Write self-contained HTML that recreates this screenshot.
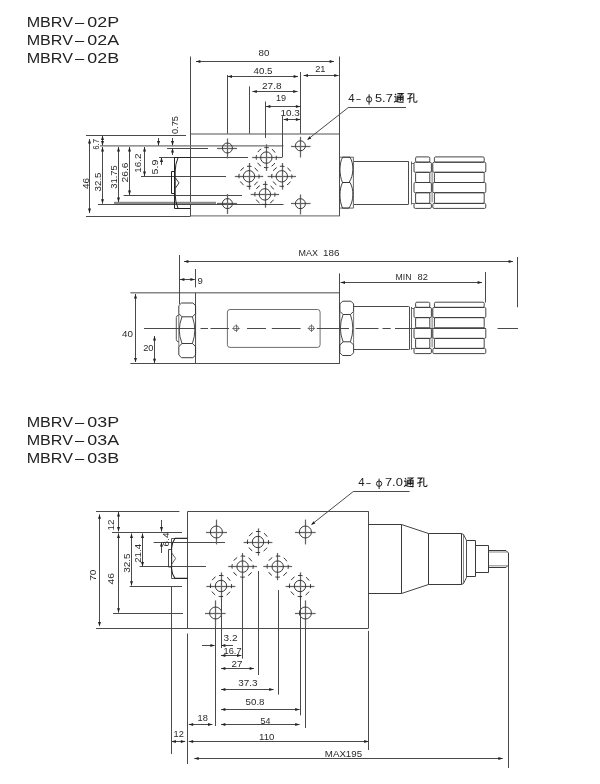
<!DOCTYPE html>
<html><head><meta charset="utf-8"><title>MBRV</title>
<style>
html,body{margin:0;padding:0;background:#fff;}
body{width:600px;height:784px;overflow:hidden;font-family:"Liberation Sans",sans-serif;}
svg{display:block;will-change:transform;filter:grayscale(1);font-family:"Liberation Sans",sans-serif;}
</style></head><body>
<svg width="600" height="784" viewBox="0 0 600 784">
<rect width="600" height="784" fill="#fff"/>
<text x="26.7" y="26.6" font-size="14.8" lengthAdjust="spacingAndGlyphs" fill="#222" textLength="46.2">MBRV</text>
<text x="74.9" y="26.6" font-size="14.8" lengthAdjust="spacingAndGlyphs" fill="#222" textLength="9.2">–</text>
<text x="87.3" y="26.6" font-size="14.8" lengthAdjust="spacingAndGlyphs" fill="#222" textLength="31.8">02P</text>
<text x="26.7" y="45" font-size="14.8" lengthAdjust="spacingAndGlyphs" fill="#222" textLength="46.2">MBRV</text>
<text x="74.9" y="45" font-size="14.8" lengthAdjust="spacingAndGlyphs" fill="#222" textLength="9.2">–</text>
<text x="87.3" y="45" font-size="14.8" lengthAdjust="spacingAndGlyphs" fill="#222" textLength="31.8">02A</text>
<text x="26.7" y="63" font-size="14.8" lengthAdjust="spacingAndGlyphs" fill="#222" textLength="46.2">MBRV</text>
<text x="74.9" y="63" font-size="14.8" lengthAdjust="spacingAndGlyphs" fill="#222" textLength="9.2">–</text>
<text x="87.3" y="63" font-size="14.8" lengthAdjust="spacingAndGlyphs" fill="#222" textLength="31.8">02B</text>
<text x="26.7" y="426.6" font-size="14.8" lengthAdjust="spacingAndGlyphs" fill="#222" textLength="46.2">MBRV</text>
<text x="74.9" y="426.6" font-size="14.8" lengthAdjust="spacingAndGlyphs" fill="#222" textLength="9.2">–</text>
<text x="87.3" y="426.6" font-size="14.8" lengthAdjust="spacingAndGlyphs" fill="#222" textLength="31.8">03P</text>
<text x="26.7" y="445" font-size="14.8" lengthAdjust="spacingAndGlyphs" fill="#222" textLength="46.2">MBRV</text>
<text x="74.9" y="445" font-size="14.8" lengthAdjust="spacingAndGlyphs" fill="#222" textLength="9.2">–</text>
<text x="87.3" y="445" font-size="14.8" lengthAdjust="spacingAndGlyphs" fill="#222" textLength="31.8">03A</text>
<text x="26.7" y="463" font-size="14.8" lengthAdjust="spacingAndGlyphs" fill="#222" textLength="46.2">MBRV</text>
<text x="74.9" y="463" font-size="14.8" lengthAdjust="spacingAndGlyphs" fill="#222" textLength="9.2">–</text>
<text x="87.3" y="463" font-size="14.8" lengthAdjust="spacingAndGlyphs" fill="#222" textLength="31.8">03B</text>
<g id="top02">
<line x1="190.5" y1="133.95" x2="339" y2="133.95" stroke="#8a8a8a" stroke-width="1.5" />
<line x1="190.5" y1="215.9" x2="339.5" y2="215.9" stroke="#808080" stroke-width="1.4" />
<line x1="190.5" y1="56.5" x2="190.5" y2="216.2" stroke="#4a4a4a" stroke-width="1" />
<line x1="339.5" y1="56.5" x2="339.5" y2="216.2" stroke="#4a4a4a" stroke-width="1" />
<line x1="86" y1="135.5" x2="186" y2="135.5" stroke="#4a4a4a" stroke-width="1" />
<line x1="86" y1="216.5" x2="190.5" y2="216.5" stroke="#4a4a4a" stroke-width="1" />
<line x1="100" y1="145.8" x2="283.5" y2="145.8" stroke="#707070" stroke-width="1.3" />
<line x1="167" y1="148.5" x2="208" y2="148.5" stroke="#4a4a4a" stroke-width="1" />
<line x1="159" y1="157.5" x2="248" y2="157.5" stroke="#4a4a4a" stroke-width="1" />
<line x1="141" y1="176.5" x2="226" y2="176.5" stroke="#4a4a4a" stroke-width="1" />
<line x1="123.6" y1="195.5" x2="242" y2="195.5" stroke="#4a4a4a" stroke-width="1" />
<line x1="114" y1="202.9" x2="216" y2="202.9" stroke="#8a8a8a" stroke-width="2.2" />
<line x1="98" y1="204.5" x2="283.5" y2="204.5" stroke="#4a4a4a" stroke-width="1" />
<line x1="227.5" y1="75" x2="227.5" y2="133.6" stroke="#4a4a4a" stroke-width="1" />
<line x1="249.5" y1="86.4" x2="249.5" y2="133.6" stroke="#4a4a4a" stroke-width="1" />
<line x1="265.5" y1="101.5" x2="265.5" y2="138" stroke="#4a4a4a" stroke-width="1" />
<line x1="282.5" y1="116" x2="282.5" y2="157.5" stroke="#4a4a4a" stroke-width="1" />
<line x1="276" y1="157.5" x2="282" y2="157.5" stroke="#4a4a4a" stroke-width="1" />
<line x1="300.5" y1="72" x2="300.5" y2="133.6" stroke="#4a4a4a" stroke-width="1" />
<line x1="196" y1="61.5" x2="334" y2="61.5" stroke="#4a4a4a" stroke-width="1" />
<polygon points="196,61.5 200.4,60.0 200.4,63.0" fill="#222"/>
<polygon points="334,61.5 329.6,60.0 329.6,63.0" fill="#222"/>
<line x1="227.6" y1="76.5" x2="298" y2="76.5" stroke="#4a4a4a" stroke-width="1" />
<polygon points="227.6,76.5 232.0,75.0 232.0,78.0" fill="#222"/>
<polygon points="298,76.5 293.6,75.0 293.6,78.0" fill="#222"/>
<line x1="303.6" y1="75.5" x2="338.6" y2="75.5" stroke="#4a4a4a" stroke-width="1" />
<polygon points="303.6,75.5 308.0,74.0 308.0,77.0" fill="#222"/>
<polygon points="338.6,75.5 334.20000000000005,74.0 334.20000000000005,77.0" fill="#222"/>
<line x1="252.4" y1="91.5" x2="297.6" y2="91.5" stroke="#4a4a4a" stroke-width="1" />
<polygon points="252.4,91.5 256.8,90.0 256.8,93.0" fill="#222"/>
<polygon points="297.6,91.5 293.20000000000005,90.0 293.20000000000005,93.0" fill="#222"/>
<line x1="266" y1="106.5" x2="300.3" y2="106.5" stroke="#4a4a4a" stroke-width="1" />
<polygon points="266,106.5 270.4,105.0 270.4,108.0" fill="#222"/>
<polygon points="300.3,106.5 295.90000000000003,105.0 295.90000000000003,108.0" fill="#222"/>
<line x1="283.6" y1="119.5" x2="300.3" y2="119.5" stroke="#4a4a4a" stroke-width="1" />
<polygon points="283.6,119.5 288.0,118.0 288.0,121.0" fill="#222"/>
<polygon points="300.3,119.5 295.90000000000003,118.0 295.90000000000003,121.0" fill="#222"/>
<text x="258.60" y="55.7" font-size="8.5" textLength="10.90" lengthAdjust="spacingAndGlyphs" fill="#2a2a2a" >80</text>
<text x="253.60" y="74.1" font-size="8.5" textLength="18.90" lengthAdjust="spacingAndGlyphs" fill="#2a2a2a" >40.5</text>
<text x="315.20" y="72.1" font-size="8.5" textLength="10.30" lengthAdjust="spacingAndGlyphs" fill="#2a2a2a" >21</text>
<text x="262.00" y="88.7" font-size="8.5" textLength="19.50" lengthAdjust="spacingAndGlyphs" fill="#2a2a2a" >27.8</text>
<text x="276.00" y="101" font-size="8.5" textLength="10.10" lengthAdjust="spacingAndGlyphs" fill="#2a2a2a" >19</text>
<text x="280.60" y="116.1" font-size="8.5" textLength="19.30" lengthAdjust="spacingAndGlyphs" fill="#2a2a2a" >10.3</text>
<line x1="89.5" y1="139" x2="89.5" y2="213" stroke="#4a4a4a" stroke-width="1" />
<polygon points="89.5,139 88.0,143.4 91.0,143.4" fill="#222"/>
<polygon points="89.5,213 88.0,208.6 91.0,208.6" fill="#222"/>
<line x1="102.5" y1="135.5" x2="102.5" y2="145.7" stroke="#4a4a4a" stroke-width="1" />
<polygon points="102.5,135.7 101.0,140.1 104.0,140.1" fill="#222"/>
<polygon points="102.5,145.5 101.0,141.1 104.0,141.1" fill="#222"/>
<line x1="102.5" y1="147" x2="102.5" y2="203.6" stroke="#4a4a4a" stroke-width="1" />
<polygon points="102.5,147 101.0,151.4 104.0,151.4" fill="#222"/>
<polygon points="102.5,203.6 101.0,199.2 104.0,199.2" fill="#222"/>
<line x1="118.5" y1="147" x2="118.5" y2="202" stroke="#4a4a4a" stroke-width="1" />
<polygon points="118.5,147 117.0,151.4 120.0,151.4" fill="#222"/>
<polygon points="118.5,202 117.0,197.6 120.0,197.6" fill="#222"/>
<line x1="129.5" y1="147" x2="129.5" y2="195" stroke="#4a4a4a" stroke-width="1" />
<polygon points="129.5,147 128.0,151.4 131.0,151.4" fill="#222"/>
<polygon points="129.5,195 128.0,190.6 131.0,190.6" fill="#222"/>
<line x1="144.5" y1="147" x2="144.5" y2="176" stroke="#4a4a4a" stroke-width="1" />
<polygon points="144.5,147 143.0,151.4 146.0,151.4" fill="#222"/>
<polygon points="144.5,176 143.0,171.6 146.0,171.6" fill="#222"/>
<line x1="158.5" y1="138" x2="158.5" y2="145.5" stroke="#4a4a4a" stroke-width="1" />
<polygon points="158.5,145.5 157.0,141.1 160.0,141.1" fill="#222"/>
<line x1="161.5" y1="157.6" x2="161.5" y2="165" stroke="#4a4a4a" stroke-width="1" />
<polygon points="161.5,157.6 160.0,162.0 163.0,162.0" fill="#222"/>
<line x1="172.5" y1="138" x2="172.5" y2="145.5" stroke="#4a4a4a" stroke-width="1" />
<polygon points="172.5,145.5 171.0,141.1 174.0,141.1" fill="#222"/>
<line x1="172.5" y1="148.2" x2="172.5" y2="155" stroke="#4a4a4a" stroke-width="1" />
<polygon points="172.5,148.2 171.0,152.6 174.0,152.6" fill="#222"/>
<text transform="translate(88.6,189.00) rotate(-90)" x="0" y="0" font-size="8.5" textLength="11.10" lengthAdjust="spacingAndGlyphs" fill="#2a2a2a" >46</text>
<text transform="translate(99.4,149.80) rotate(-90)" x="0" y="0" font-size="8.5" textLength="10.90" lengthAdjust="spacingAndGlyphs" fill="#2a2a2a" >6.7</text>
<text transform="translate(101.3,191.40) rotate(-90)" x="0" y="0" font-size="8.5" textLength="18.90" lengthAdjust="spacingAndGlyphs" fill="#2a2a2a" >32.5</text>
<text transform="translate(116.8,188.80) rotate(-90)" x="0" y="0" font-size="8.5" textLength="23.70" lengthAdjust="spacingAndGlyphs" fill="#2a2a2a" >31.75</text>
<text transform="translate(127.5,182.40) rotate(-90)" x="0" y="0" font-size="8.5" textLength="19.90" lengthAdjust="spacingAndGlyphs" fill="#2a2a2a" >26.6</text>
<text transform="translate(140.6,172.80) rotate(-90)" x="0" y="0" font-size="8.5" textLength="19.30" lengthAdjust="spacingAndGlyphs" fill="#2a2a2a" >16.2</text>
<text transform="translate(157.6,174.40) rotate(-90)" x="0" y="0" font-size="8.5" textLength="14.90" lengthAdjust="spacingAndGlyphs" fill="#2a2a2a" >5.9</text>
<text transform="translate(177.6,134.00) rotate(-90)" x="0" y="0" font-size="8.5" textLength="17.90" lengthAdjust="spacingAndGlyphs" fill="#2a2a2a" >0.75</text>
<path d="M174.5,157.5 H190.5 M174.5,208.5 H190.5 M174.5,157.5 V208.5" stroke="#222" stroke-width="1.0" fill="none" />
<path d="M178,157.8 Q175.3,164 175.2,171 V195 Q175.3,202 178,208.2" stroke="#222" stroke-width="1" fill="none" />
<path d="M175.4,177.8 L179,182.9 L175.4,188.2" stroke="#222" stroke-width="0.9" fill="none" />
<path d="M171.5,171.5 H174.5 V193.5 H171.5 Z" stroke="#222" stroke-width="1" fill="none" />
<line x1="217" y1="148.5" x2="237" y2="148.5" stroke="#636363" stroke-width="1.25" />
<line x1="227.5" y1="138.5" x2="227.5" y2="158.5" stroke="#636363" stroke-width="1.25" />
<circle cx="227.4" cy="148" r="5" stroke="#303030" stroke-width="0.95" fill="none" />
<line x1="217" y1="203.5" x2="237" y2="203.5" stroke="#636363" stroke-width="1.25" />
<line x1="227.5" y1="194" x2="227.5" y2="214" stroke="#636363" stroke-width="1.25" />
<circle cx="227.4" cy="203.6" r="5" stroke="#303030" stroke-width="0.95" fill="none" />
<line x1="291" y1="146.5" x2="310.5" y2="146.5" stroke="#636363" stroke-width="1.25" />
<line x1="300.5" y1="136.8" x2="300.5" y2="157.5" stroke="#636363" stroke-width="1.25" />
<circle cx="300.4" cy="145.8" r="5" stroke="#303030" stroke-width="0.95" fill="none" />
<line x1="291" y1="203.5" x2="310.5" y2="203.5" stroke="#636363" stroke-width="1.25" />
<line x1="300.5" y1="194.5" x2="300.5" y2="214.5" stroke="#636363" stroke-width="1.25" />
<circle cx="300.4" cy="203.7" r="5" stroke="#303030" stroke-width="0.95" fill="none" />
<line x1="252.10000000000002" y1="157.5" x2="280.5" y2="157.5" stroke="#636363" stroke-width="1.25" />
<line x1="266.5" y1="144.29999999999998" x2="266.5" y2="170.9" stroke="#636363" stroke-width="1.25" />
<circle cx="266.3" cy="157.6" r="5.7" stroke="#303030" stroke-width="0.95" fill="none" />
<circle cx="266.3" cy="157.6" r="10.1" stroke="#2e2e2e" stroke-width="1.0" fill="none" stroke-dasharray="4.600 3.333" stroke-dashoffset="2.300"/>
<line x1="234.8" y1="176.5" x2="263.2" y2="176.5" stroke="#636363" stroke-width="1.25" />
<line x1="249.5" y1="163.0" x2="249.5" y2="189.60000000000002" stroke="#636363" stroke-width="1.25" />
<circle cx="249" cy="176.3" r="5.7" stroke="#303030" stroke-width="0.95" fill="none" />
<circle cx="249" cy="176.3" r="10.1" stroke="#2e2e2e" stroke-width="1.0" fill="none" stroke-dasharray="4.600 3.333" stroke-dashoffset="2.300"/>
<line x1="267.6" y1="176.5" x2="296.0" y2="176.5" stroke="#636363" stroke-width="1.25" />
<line x1="282.5" y1="163.0" x2="282.5" y2="189.60000000000002" stroke="#636363" stroke-width="1.25" />
<circle cx="281.8" cy="176.3" r="5.7" stroke="#303030" stroke-width="0.95" fill="none" />
<circle cx="281.8" cy="176.3" r="10.1" stroke="#2e2e2e" stroke-width="1.0" fill="none" stroke-dasharray="4.600 3.333" stroke-dashoffset="2.300"/>
<line x1="250.7" y1="194.5" x2="279.09999999999997" y2="194.5" stroke="#636363" stroke-width="1.25" />
<line x1="265.5" y1="181.1" x2="265.5" y2="207.70000000000002" stroke="#636363" stroke-width="1.25" />
<circle cx="264.9" cy="194.4" r="5.7" stroke="#303030" stroke-width="0.95" fill="none" />
<circle cx="264.9" cy="194.4" r="10.1" stroke="#2e2e2e" stroke-width="1.0" fill="none" stroke-dasharray="4.600 3.333" stroke-dashoffset="2.300"/>
<line x1="349" y1="107" x2="308" y2="139.2" stroke="#4a4a4a" stroke-width="1" />
<line x1="349" y1="107.5" x2="406" y2="107.5" stroke="#4a4a4a" stroke-width="1" />
<polygon points="307,140 311.3,138.4 309.5,136.2" fill="#222"/>
<path d="M339.5,157.2 H353.4 V208.1 H339.5" stroke="#555" stroke-width="0.9" fill="none" />
<path d="M342.6,157.2 C339.1,163.52499999999998 339.1,174.91 342.5,182.5 H349.0 C354.0,175.416 354.0,163.52499999999998 350.0,157.2 Z" stroke="#333" stroke-width="0.95" fill="none" />
<path d="M342.6,182.5 C339.1,188.9 339.1,200.42 342.5,208.1 H349.0 C354.0,200.932 354.0,188.9 350.0,182.5 Z" stroke="#333" stroke-width="0.95" fill="none" />
<line x1="354" y1="161.5" x2="408.2" y2="161.5" stroke="#4a4a4a" stroke-width="1" />
<line x1="354" y1="204.5" x2="408.2" y2="204.5" stroke="#4a4a4a" stroke-width="1" />
<line x1="408.5" y1="161.2" x2="408.5" y2="204.5" stroke="#4a4a4a" stroke-width="1" />
<line x1="411.5" y1="161.5" x2="411.5" y2="204.5" stroke="#555" stroke-width="0.9" />
<path d="M411.5,163.5 H414 M411.5,203.5 H414" stroke="#555" stroke-width="0.8" fill="none" />
<rect x="415.60" y="156.90" width="14.20" height="5.30" rx="1.3" ry="1.3" fill="none" stroke="#3c3c3c" stroke-width="0.95"/>
<rect x="414.00" y="162.20" width="17.40" height="10.10" rx="1.3" ry="1.3" fill="none" stroke="#3c3c3c" stroke-width="0.95"/>
<rect x="415.60" y="172.30" width="14.20" height="10.20" rx="1.3" ry="1.3" fill="none" stroke="#3c3c3c" stroke-width="0.95"/>
<rect x="414.00" y="182.50" width="17.40" height="10.20" rx="1.3" ry="1.3" fill="none" stroke="#3c3c3c" stroke-width="0.95"/>
<rect x="415.60" y="192.70" width="14.20" height="10.70" rx="1.3" ry="1.3" fill="none" stroke="#3c3c3c" stroke-width="0.95"/>
<rect x="414.00" y="203.40" width="17.40" height="5.00" rx="1.3" ry="1.3" fill="none" stroke="#3c3c3c" stroke-width="0.95"/>
<rect x="434.40" y="156.90" width="49.80" height="5.30" rx="1.3" ry="1.3" fill="none" stroke="#3c3c3c" stroke-width="0.95"/>
<rect x="432.80" y="162.20" width="53.00" height="10.10" rx="1.3" ry="1.3" fill="none" stroke="#3c3c3c" stroke-width="0.95"/>
<rect x="434.40" y="172.30" width="49.80" height="10.20" rx="1.3" ry="1.3" fill="none" stroke="#3c3c3c" stroke-width="0.95"/>
<rect x="432.80" y="182.50" width="53.00" height="10.20" rx="1.3" ry="1.3" fill="none" stroke="#3c3c3c" stroke-width="0.95"/>
<rect x="434.40" y="192.70" width="49.80" height="10.70" rx="1.3" ry="1.3" fill="none" stroke="#3c3c3c" stroke-width="0.95"/>
<rect x="432.80" y="203.40" width="53.00" height="5.00" rx="1.3" ry="1.3" fill="none" stroke="#3c3c3c" stroke-width="0.95"/>
<line x1="432.1" y1="163.2" x2="432.1" y2="202.4" stroke="#555" stroke-width="0.8" />
</g>
<g id="side02">
<line x1="130.4" y1="292.8" x2="339.6" y2="292.8" stroke="#858585" stroke-width="1.5" />
<line x1="130.4" y1="363.5" x2="340" y2="363.5" stroke="#4a4a4a" stroke-width="1" />
<line x1="195.5" y1="292.8" x2="195.5" y2="363.5" stroke="#4a4a4a" stroke-width="1" />
<line x1="339.5" y1="273.4" x2="339.5" y2="363.5" stroke="#4a4a4a" stroke-width="1" />
<line x1="179.5" y1="255" x2="179.5" y2="304" stroke="#4a4a4a" stroke-width="1" />
<line x1="195.5" y1="269" x2="195.5" y2="287.4" stroke="#4a4a4a" stroke-width="1" />
<line x1="184" y1="261.5" x2="513" y2="261.5" stroke="#4a4a4a" stroke-width="1" />
<polygon points="184,261.5 188.4,260.0 188.4,263.0" fill="#222"/>
<polygon points="513,261.5 508.6,260.0 508.6,263.0" fill="#222"/>
<line x1="517.5" y1="257" x2="517.5" y2="307.2" stroke="#4a4a4a" stroke-width="1" />
<text x="298.60" y="256.1" font-size="8.5" textLength="19.40" lengthAdjust="spacingAndGlyphs" fill="#2a2a2a" >MAX</text>
<text x="323.10" y="256.1" font-size="8.5" textLength="16.40" lengthAdjust="spacingAndGlyphs" fill="#2a2a2a" >186</text>
<line x1="180" y1="279.5" x2="194.8" y2="279.5" stroke="#4a4a4a" stroke-width="1" />
<polygon points="180,279.5 184.4,278.0 184.4,281.0" fill="#222"/>
<polygon points="194.8,279.5 190.4,278.0 190.4,281.0" fill="#222"/>
<text x="197.60" y="283.7" font-size="8.5" textLength="5.30" lengthAdjust="spacingAndGlyphs" fill="#2a2a2a" >9</text>
<line x1="340.6" y1="282.5" x2="482" y2="282.5" stroke="#4a4a4a" stroke-width="1" />
<polygon points="340.6,282.5 345.0,281.0 345.0,284.0" fill="#222"/>
<polygon points="482,282.5 477.6,281.0 477.6,284.0" fill="#222"/>
<line x1="485.5" y1="272" x2="485.5" y2="302.5" stroke="#4a4a4a" stroke-width="1" />
<text x="395.60" y="279.7" font-size="8.5" textLength="15.90" lengthAdjust="spacingAndGlyphs" fill="#2a2a2a" >MIN</text>
<text x="417.60" y="279.7" font-size="8.5" textLength="10.40" lengthAdjust="spacingAndGlyphs" fill="#2a2a2a" >82</text>
<line x1="135.5" y1="294" x2="135.5" y2="362" stroke="#4a4a4a" stroke-width="1" />
<polygon points="135.5,294 134.0,298.4 137.0,298.4" fill="#222"/>
<polygon points="135.5,362.3 134.0,357.90000000000003 137.0,357.90000000000003" fill="#222"/>
<text x="122.00" y="336.7" font-size="8.5" textLength="10.90" lengthAdjust="spacingAndGlyphs" fill="#2a2a2a" >40</text>
<line x1="154.5" y1="336" x2="154.5" y2="363.2" stroke="#4a4a4a" stroke-width="1" />
<polygon points="154.5,336 153.0,340.4 156.0,340.4" fill="#222"/>
<polygon points="154.5,363.2 153.0,358.8 156.0,358.8" fill="#222"/>
<text x="143.20" y="351.1" font-size="8.5" textLength="10.30" lengthAdjust="spacingAndGlyphs" fill="#2a2a2a" >20</text>
<line x1="144" y1="328.5" x2="196" y2="328.5" stroke="#4a4a4a" stroke-width="1" />
<line x1="200.5" y1="328.5" x2="208" y2="328.5" stroke="#4a4a4a" stroke-width="1" />
<line x1="210.5" y1="328.5" x2="229" y2="328.5" stroke="#4a4a4a" stroke-width="1" />
<line x1="247" y1="328.5" x2="266" y2="328.5" stroke="#4a4a4a" stroke-width="1" />
<line x1="271.8" y1="328.5" x2="300.6" y2="328.5" stroke="#4a4a4a" stroke-width="1" />
<line x1="316.8" y1="328.5" x2="349" y2="328.5" stroke="#4a4a4a" stroke-width="1" />
<line x1="355.5" y1="328.5" x2="378.5" y2="328.5" stroke="#4a4a4a" stroke-width="1" />
<line x1="382.5" y1="328.5" x2="390.7" y2="328.5" stroke="#4a4a4a" stroke-width="1" />
<line x1="395" y1="328.5" x2="413.5" y2="328.5" stroke="#4a4a4a" stroke-width="1" />
<line x1="497.5" y1="328.5" x2="518" y2="328.5" stroke="#4a4a4a" stroke-width="1" />
<line x1="413.5" y1="328.5" x2="486" y2="328.5" stroke="#4a4a4a" stroke-width="0.9" />
<path d="M178.8,305.7 L181.5,303 H192.9 L195.6,305.7 V313.6 L192.4,316.8 H182.0 L178.8,313.6 Z" stroke="#333" stroke-width="0.95" fill="none" />
<path d="M178.8,355.0 L181.5,357.7 H192.9 L195.6,355.0 V346.7 L192.4,343.5 H182.0 L178.8,346.7 Z" stroke="#333" stroke-width="0.95" fill="none" />
<path d="M182.0,316.8 Q176.60000000000002,330.15 182.0,343.5" stroke="#333" stroke-width="0.9" fill="none" />
<path d="M192.4,316.8 Q197.2,330.15 192.4,343.5" stroke="#333" stroke-width="0.9" fill="none" />
<line x1="178.8" y1="313.6" x2="178.8" y2="346.7" stroke="#555" stroke-width="0.8" />
<line x1="195.6" y1="313.6" x2="195.6" y2="346.7" stroke="#555" stroke-width="0.8" />
<path d="M178.8,315 L177,315.8 L176.3,317.5 V339.5 L177,341.2 L178.8,342" stroke="#444" stroke-width="0.9" fill="none" />
<rect x="227.4" y="309.5" width="92.7" height="37.9" rx="2.6" ry="2.6" fill="none" stroke="#4a4a4a" stroke-width="0.8"/>
<circle cx="236" cy="328.2" r="2.5" stroke="#4a4a4a" stroke-width="0.7" fill="none" />
<line x1="232.2" y1="328.5" x2="239.8" y2="328.5" stroke="#4a4a4a" stroke-width="0.7" />
<line x1="236.5" y1="324.4" x2="236.5" y2="332.0" stroke="#4a4a4a" stroke-width="0.7" />
<circle cx="311.4" cy="328.2" r="2.5" stroke="#4a4a4a" stroke-width="0.7" fill="none" />
<line x1="307.59999999999997" y1="328.5" x2="315.2" y2="328.5" stroke="#4a4a4a" stroke-width="0.7" />
<line x1="311.5" y1="324.4" x2="311.5" y2="332.0" stroke="#4a4a4a" stroke-width="0.7" />
<path d="M339.9,303.9 L342.59999999999997,301.2 H350.90000000000003 L353.6,303.9 V311.3 L350.40000000000003,314.5 H343.09999999999997 L339.9,311.3 Z" stroke="#333" stroke-width="0.95" fill="none" />
<path d="M339.9,352.8 L342.59999999999997,355.5 H350.90000000000003 L353.6,352.8 V345.0 L350.40000000000003,341.8 H343.09999999999997 L339.9,345.0 Z" stroke="#333" stroke-width="0.95" fill="none" />
<path d="M343.09999999999997,314.5 Q337.7,328.15 343.09999999999997,341.8" stroke="#333" stroke-width="0.9" fill="none" />
<path d="M350.40000000000003,314.5 Q355.20000000000005,328.15 350.40000000000003,341.8" stroke="#333" stroke-width="0.9" fill="none" />
<line x1="339.9" y1="311.3" x2="339.9" y2="345.0" stroke="#555" stroke-width="0.8" />
<line x1="353.6" y1="311.3" x2="353.6" y2="345.0" stroke="#555" stroke-width="0.8" />
<line x1="353.6" y1="306.5" x2="408.8" y2="306.5" stroke="#4a4a4a" stroke-width="1" />
<line x1="353.6" y1="349.5" x2="408.8" y2="349.5" stroke="#4a4a4a" stroke-width="1" />
<line x1="409.5" y1="306.6" x2="409.5" y2="349.7" stroke="#4a4a4a" stroke-width="1" />
<line x1="411.5" y1="307" x2="411.5" y2="349.7" stroke="#555" stroke-width="0.9" />
<path d="M411.5,308.5 H414 M411.5,348.5 H414" stroke="#555" stroke-width="0.8" fill="none" />
<rect x="415.60" y="302.20" width="14.20" height="5.20" rx="1.3" ry="1.3" fill="none" stroke="#3c3c3c" stroke-width="0.95"/>
<rect x="414.00" y="307.40" width="17.40" height="10.20" rx="1.3" ry="1.3" fill="none" stroke="#3c3c3c" stroke-width="0.95"/>
<rect x="415.60" y="317.60" width="14.20" height="10.40" rx="1.3" ry="1.3" fill="none" stroke="#3c3c3c" stroke-width="0.95"/>
<rect x="414.00" y="328.00" width="17.40" height="10.40" rx="1.3" ry="1.3" fill="none" stroke="#3c3c3c" stroke-width="0.95"/>
<rect x="415.60" y="338.40" width="14.20" height="10.00" rx="1.3" ry="1.3" fill="none" stroke="#3c3c3c" stroke-width="0.95"/>
<rect x="414.00" y="348.40" width="17.40" height="5.20" rx="1.3" ry="1.3" fill="none" stroke="#3c3c3c" stroke-width="0.95"/>
<rect x="434.40" y="302.20" width="49.80" height="5.20" rx="1.3" ry="1.3" fill="none" stroke="#3c3c3c" stroke-width="0.95"/>
<rect x="432.80" y="307.40" width="53.00" height="10.20" rx="1.3" ry="1.3" fill="none" stroke="#3c3c3c" stroke-width="0.95"/>
<rect x="434.40" y="317.60" width="49.80" height="10.40" rx="1.3" ry="1.3" fill="none" stroke="#3c3c3c" stroke-width="0.95"/>
<rect x="432.80" y="328.00" width="53.00" height="10.40" rx="1.3" ry="1.3" fill="none" stroke="#3c3c3c" stroke-width="0.95"/>
<rect x="434.40" y="338.40" width="49.80" height="10.00" rx="1.3" ry="1.3" fill="none" stroke="#3c3c3c" stroke-width="0.95"/>
<rect x="432.80" y="348.40" width="53.00" height="5.20" rx="1.3" ry="1.3" fill="none" stroke="#3c3c3c" stroke-width="0.95"/>
<line x1="432.1" y1="308.4" x2="432.1" y2="347.4" stroke="#555" stroke-width="0.8" />
</g>
<g id="v03">
<line x1="187.7" y1="511.5" x2="368.6" y2="511.5" stroke="#4a4a4a" stroke-width="1" />
<line x1="96" y1="628.5" x2="368.6" y2="628.5" stroke="#4a4a4a" stroke-width="1" />
<line x1="187.5" y1="511.4" x2="187.5" y2="628.2" stroke="#4a4a4a" stroke-width="1" />
<line x1="368.5" y1="511.4" x2="368.5" y2="628.2" stroke="#4a4a4a" stroke-width="1" />
<line x1="96" y1="511.5" x2="179.4" y2="511.5" stroke="#4a4a4a" stroke-width="1" />
<line x1="112" y1="532.5" x2="182" y2="532.5" stroke="#4a4a4a" stroke-width="1" />
<line x1="206.5" y1="532.5" x2="227" y2="532.5" stroke="#4a4a4a" stroke-width="1" />
<line x1="153.6" y1="542.5" x2="225" y2="542.5" stroke="#4a4a4a" stroke-width="1" />
<line x1="139.6" y1="566.5" x2="206" y2="566.5" stroke="#4a4a4a" stroke-width="1" />
<line x1="129.6" y1="586.5" x2="182" y2="586.5" stroke="#4a4a4a" stroke-width="1" />
<line x1="206.6" y1="586.5" x2="235" y2="586.5" stroke="#4a4a4a" stroke-width="1" />
<line x1="113" y1="613.5" x2="183" y2="613.5" stroke="#4a4a4a" stroke-width="1" />
<line x1="99.5" y1="514.4" x2="99.5" y2="625.5" stroke="#4a4a4a" stroke-width="1" />
<polygon points="99.5,514.4 98.0,518.8 101.0,518.8" fill="#222"/>
<polygon points="99.5,626.5 98.0,622.1 101.0,622.1" fill="#222"/>
<line x1="118.5" y1="512" x2="118.5" y2="531.4" stroke="#4a4a4a" stroke-width="1" />
<polygon points="118.5,512 117.0,516.4 120.0,516.4" fill="#222"/>
<polygon points="118.5,531.4 117.0,527.0 120.0,527.0" fill="#222"/>
<line x1="118.5" y1="533.5" x2="118.5" y2="612.6" stroke="#4a4a4a" stroke-width="1" />
<polygon points="118.5,533.5 117.0,537.9 120.0,537.9" fill="#222"/>
<polygon points="118.5,612.6 117.0,608.2 120.0,608.2" fill="#222"/>
<line x1="131.5" y1="533.5" x2="131.5" y2="585.6" stroke="#4a4a4a" stroke-width="1" />
<polygon points="131.5,533.5 130.0,537.9 133.0,537.9" fill="#222"/>
<polygon points="131.5,585.6 130.0,581.2 133.0,581.2" fill="#222"/>
<line x1="142.5" y1="533.5" x2="142.5" y2="566.4" stroke="#4a4a4a" stroke-width="1" />
<polygon points="142.5,533.5 141.0,537.9 144.0,537.9" fill="#222"/>
<polygon points="142.5,566.4 141.0,562.0 144.0,562.0" fill="#222"/>
<line x1="161.5" y1="520" x2="161.5" y2="531.5" stroke="#4a4a4a" stroke-width="1" />
<polygon points="161.5,531.5 160.0,527.1 163.0,527.1" fill="#222"/>
<line x1="161.5" y1="542.2" x2="161.5" y2="553" stroke="#4a4a4a" stroke-width="1" />
<polygon points="161.5,542.2 160.0,546.6 163.0,546.6" fill="#222"/>
<text transform="translate(95.6,580.80) rotate(-90)" x="0" y="0" font-size="8.5" textLength="11.30" lengthAdjust="spacingAndGlyphs" fill="#2a2a2a" >70</text>
<text transform="translate(113.8,530.40) rotate(-90)" x="0" y="0" font-size="8.5" textLength="10.90" lengthAdjust="spacingAndGlyphs" fill="#2a2a2a" >12</text>
<text transform="translate(114,584.40) rotate(-90)" x="0" y="0" font-size="8.5" textLength="11.30" lengthAdjust="spacingAndGlyphs" fill="#2a2a2a" >46</text>
<text transform="translate(129.6,572.80) rotate(-90)" x="0" y="0" font-size="8.5" textLength="19.30" lengthAdjust="spacingAndGlyphs" fill="#2a2a2a" >32.5</text>
<text transform="translate(140.6,562.80) rotate(-90)" x="0" y="0" font-size="8.5" textLength="18.90" lengthAdjust="spacingAndGlyphs" fill="#2a2a2a" >21.4</text>
<text transform="translate(169,546.40) rotate(-90)" x="0" y="0" font-size="8.5" textLength="13.90" lengthAdjust="spacingAndGlyphs" fill="#2a2a2a" >6.4</text>
<path d="M171.5,538.5 H187.7 M171.5,578.5 H187.7 M171.5,538.5 V578.5" stroke="#444" stroke-width="0.9" fill="none" />
<path d="M175,538.3 Q171.8,543 171.6,548 V569 Q171.8,574 175,578.4 H187.7 M175,538.3 H187.7" stroke="#222" stroke-width="1.1" fill="none" />
<path d="M171.8,553 L175.6,558.5 L171.8,564" stroke="#333" stroke-width="0.8" fill="none" />
<path d="M168.5,549.5 H171.5 V567 H168.5 Z" stroke="#333" stroke-width="0.9" fill="none" />
<line x1="206" y1="532.5" x2="227" y2="532.5" stroke="#636363" stroke-width="1.25" />
<line x1="216.5" y1="519.6" x2="216.5" y2="544.4" stroke="#636363" stroke-width="1.25" />
<circle cx="216.4" cy="532" r="6" stroke="#303030" stroke-width="0.95" fill="none" />
<line x1="205" y1="613.5" x2="225.6" y2="613.5" stroke="#636363" stroke-width="1.25" />
<line x1="215.5" y1="600.4" x2="215.5" y2="626" stroke="#636363" stroke-width="1.25" />
<circle cx="215.6" cy="613" r="6" stroke="#303030" stroke-width="0.95" fill="none" />
<line x1="295" y1="532.5" x2="315.6" y2="532.5" stroke="#636363" stroke-width="1.25" />
<line x1="305.5" y1="519.6" x2="305.5" y2="544.4" stroke="#636363" stroke-width="1.25" />
<circle cx="305.4" cy="532" r="6" stroke="#303030" stroke-width="0.95" fill="none" />
<line x1="295" y1="613.5" x2="315.6" y2="613.5" stroke="#636363" stroke-width="1.25" />
<line x1="305.5" y1="600.4" x2="305.5" y2="626" stroke="#636363" stroke-width="1.25" />
<circle cx="305.4" cy="613" r="6" stroke="#303030" stroke-width="0.95" fill="none" />
<line x1="243.6" y1="542.5" x2="272.4" y2="542.5" stroke="#636363" stroke-width="1.25" />
<line x1="258.5" y1="528.4" x2="258.5" y2="555.6" stroke="#636363" stroke-width="1.25" />
<circle cx="258" cy="542" r="5.7" stroke="#303030" stroke-width="0.95" fill="none" />
<circle cx="258" cy="542" r="10.6" stroke="#2e2e2e" stroke-width="1.0" fill="none" stroke-dasharray="4.600 3.725" stroke-dashoffset="2.300"/>
<line x1="228.2" y1="566.5" x2="257.0" y2="566.5" stroke="#636363" stroke-width="1.25" />
<line x1="242.5" y1="553.0" x2="242.5" y2="580.2" stroke="#636363" stroke-width="1.25" />
<circle cx="242.6" cy="566.6" r="5.7" stroke="#303030" stroke-width="0.95" fill="none" />
<circle cx="242.6" cy="566.6" r="10.6" stroke="#2e2e2e" stroke-width="1.0" fill="none" stroke-dasharray="4.600 3.725" stroke-dashoffset="2.300"/>
<line x1="263.3" y1="566.5" x2="292.09999999999997" y2="566.5" stroke="#636363" stroke-width="1.25" />
<line x1="277.5" y1="553.0" x2="277.5" y2="580.2" stroke="#636363" stroke-width="1.25" />
<circle cx="277.7" cy="566.6" r="5.7" stroke="#303030" stroke-width="0.95" fill="none" />
<circle cx="277.7" cy="566.6" r="10.6" stroke="#2e2e2e" stroke-width="1.0" fill="none" stroke-dasharray="4.600 3.725" stroke-dashoffset="2.300"/>
<line x1="206.6" y1="586.5" x2="235.4" y2="586.5" stroke="#636363" stroke-width="1.25" />
<line x1="221.5" y1="572.4" x2="221.5" y2="599.6" stroke="#636363" stroke-width="1.25" />
<circle cx="221" cy="586" r="5.7" stroke="#303030" stroke-width="0.95" fill="none" />
<circle cx="221" cy="586" r="10.6" stroke="#2e2e2e" stroke-width="1.0" fill="none" stroke-dasharray="4.600 3.725" stroke-dashoffset="2.300"/>
<line x1="285.6" y1="586.5" x2="314.4" y2="586.5" stroke="#636363" stroke-width="1.25" />
<line x1="300.5" y1="572.4" x2="300.5" y2="599.6" stroke="#636363" stroke-width="1.25" />
<circle cx="300" cy="586" r="5.7" stroke="#303030" stroke-width="0.95" fill="none" />
<circle cx="300" cy="586" r="10.6" stroke="#2e2e2e" stroke-width="1.0" fill="none" stroke-dasharray="4.600 3.725" stroke-dashoffset="2.300"/>
<line x1="171.5" y1="586" x2="171.5" y2="754" stroke="#4a4a4a" stroke-width="1" />
<line x1="187.5" y1="633.5" x2="187.5" y2="764" stroke="#4a4a4a" stroke-width="1" />
<line x1="215.5" y1="626" x2="215.5" y2="726" stroke="#4a4a4a" stroke-width="1" />
<line x1="221.5" y1="599" x2="221.5" y2="648" stroke="#4a4a4a" stroke-width="1" />
<line x1="242.5" y1="580" x2="242.5" y2="658.6" stroke="#4a4a4a" stroke-width="1" />
<line x1="258.5" y1="571" x2="258.5" y2="675" stroke="#4a4a4a" stroke-width="1" />
<line x1="278.5" y1="590" x2="278.5" y2="694.6" stroke="#4a4a4a" stroke-width="1" />
<line x1="300.5" y1="597" x2="300.5" y2="715.4" stroke="#4a4a4a" stroke-width="1" />
<line x1="305.5" y1="626" x2="305.5" y2="728" stroke="#4a4a4a" stroke-width="1" />
<line x1="368.5" y1="630.8" x2="368.5" y2="750" stroke="#4a4a4a" stroke-width="1" />
<line x1="508.5" y1="565" x2="508.5" y2="768" stroke="#4a4a4a" stroke-width="1" />
<line x1="202" y1="645.5" x2="214.5" y2="645.5" stroke="#4a4a4a" stroke-width="1" />
<polygon points="214.8,645.5 210.4,644.0 210.4,647.0" fill="#222"/>
<line x1="221" y1="645.5" x2="233" y2="645.5" stroke="#4a4a4a" stroke-width="1" />
<polygon points="221,645.5 225.4,644.0 225.4,647.0" fill="#222"/>
<line x1="221" y1="655.5" x2="241.4" y2="655.5" stroke="#4a4a4a" stroke-width="1" />
<polygon points="221,655.5 225.4,654.0 225.4,657.0" fill="#222"/>
<polygon points="241.4,655.5 237.0,654.0 237.0,657.0" fill="#222"/>
<line x1="221" y1="668.5" x2="254" y2="668.5" stroke="#4a4a4a" stroke-width="1" />
<polygon points="221,668.5 225.4,667.0 225.4,670.0" fill="#222"/>
<polygon points="254,668.5 249.6,667.0 249.6,670.0" fill="#222"/>
<line x1="221" y1="689.5" x2="273.6" y2="689.5" stroke="#4a4a4a" stroke-width="1" />
<polygon points="221,689.5 225.4,688.0 225.4,691.0" fill="#222"/>
<polygon points="273.6,689.5 269.20000000000005,688.0 269.20000000000005,691.0" fill="#222"/>
<line x1="221" y1="709.5" x2="299.6" y2="709.5" stroke="#4a4a4a" stroke-width="1" />
<polygon points="221,709.5 225.4,708.0 225.4,711.0" fill="#222"/>
<polygon points="299.6,709.5 295.20000000000005,708.0 295.20000000000005,711.0" fill="#222"/>
<line x1="221" y1="724.5" x2="299.6" y2="724.5" stroke="#4a4a4a" stroke-width="1" />
<polygon points="221,724.5 225.4,723.0 225.4,726.0" fill="#222"/>
<polygon points="299.6,724.5 295.20000000000005,723.0 295.20000000000005,726.0" fill="#222"/>
<line x1="188.8" y1="724.5" x2="212.4" y2="724.5" stroke="#4a4a4a" stroke-width="1" />
<polygon points="188.8,724.5 193.20000000000002,723.0 193.20000000000002,726.0" fill="#222"/>
<polygon points="212.4,724.5 208.0,723.0 208.0,726.0" fill="#222"/>
<line x1="171.5" y1="741.5" x2="185.2" y2="741.5" stroke="#4a4a4a" stroke-width="1" />
<polygon points="171.5,741.5 175.9,740.0 175.9,743.0" fill="#222"/>
<polygon points="185.2,741.5 180.79999999999998,740.0 180.79999999999998,743.0" fill="#222"/>
<line x1="188.8" y1="741.5" x2="368.6" y2="741.5" stroke="#4a4a4a" stroke-width="1" />
<polygon points="188.8,741.5 193.20000000000002,740.0 193.20000000000002,743.0" fill="#222"/>
<polygon points="368.6,741.5 364.20000000000005,740.0 364.20000000000005,743.0" fill="#222"/>
<line x1="194.3" y1="758.5" x2="502.8" y2="758.5" stroke="#4a4a4a" stroke-width="1" />
<polygon points="194.3,758.5 198.70000000000002,757.0 198.70000000000002,760.0" fill="#222"/>
<polygon points="502.8,758.5 498.40000000000003,757.0 498.40000000000003,760.0" fill="#222"/>
<text x="223.60" y="641" font-size="8.5" textLength="13.90" lengthAdjust="spacingAndGlyphs" fill="#2a2a2a" >3.2</text>
<text x="223.60" y="653.7" font-size="8.5" textLength="17.90" lengthAdjust="spacingAndGlyphs" fill="#2a2a2a" >16.7</text>
<text x="231.60" y="666.7" font-size="8.5" textLength="10.90" lengthAdjust="spacingAndGlyphs" fill="#2a2a2a" >27</text>
<text x="238.20" y="686" font-size="8.5" textLength="19.30" lengthAdjust="spacingAndGlyphs" fill="#2a2a2a" >37.3</text>
<text x="245.60" y="704.8" font-size="8.5" textLength="18.90" lengthAdjust="spacingAndGlyphs" fill="#2a2a2a" >50.8</text>
<text x="260.60" y="724" font-size="8.5" textLength="9.90" lengthAdjust="spacingAndGlyphs" fill="#2a2a2a" >54</text>
<text x="197.60" y="720.7" font-size="8.5" textLength="10.30" lengthAdjust="spacingAndGlyphs" fill="#2a2a2a" >18</text>
<text x="173.60" y="736.8" font-size="8.5" textLength="10.30" lengthAdjust="spacingAndGlyphs" fill="#2a2a2a" >12</text>
<text x="259.00" y="740" font-size="8.5" textLength="15.50" lengthAdjust="spacingAndGlyphs" fill="#2a2a2a" >110</text>
<text x="324.80" y="756.8" font-size="8.5" textLength="37.30" lengthAdjust="spacingAndGlyphs" fill="#2a2a2a" >MAX195</text>
<line x1="353.3" y1="491.5" x2="311.8" y2="524.3" stroke="#4a4a4a" stroke-width="1" />
<line x1="353.3" y1="491.5" x2="409.6" y2="491.5" stroke="#4a4a4a" stroke-width="1" />
<polygon points="311,525 315.3,523.5 313.5,521.3" fill="#222"/>
<path d="M368.5,524.5 H401.5 V593.5 H368.5" stroke="#3a3a3a" stroke-width="1" fill="none" />
<path d="M401.5,524.5 L428.5,533.5 M401.5,593.5 L428.5,584.5" stroke="#3a3a3a" stroke-width="0.95" fill="none" />
<path d="M428.5,533.5 V584.5 M428.5,533.5 H461.5 M428.5,584.5 H461.5 M461.5,533.5 V584.5" stroke="#3a3a3a" stroke-width="1" fill="none" />
<path d="M461.5,533.5 L463.5,534.5 L466.5,540.5 V577.5 L463.5,583.5 L461.5,584.5" stroke="#3a3a3a" stroke-width="0.9" fill="none" />
<path d="M463.5,534.5 V583.5" stroke="#555" stroke-width="0.7" fill="none" />
<path d="M466.5,540.5 H475.5 V576.5 H466.5" stroke="#3a3a3a" stroke-width="1" fill="none" />
<path d="M475.5,545.5 H488.5 V572.5 H475.5" stroke="#3a3a3a" stroke-width="1" fill="none" />
<path d="M488.5,550.5 H506 L508.5,553 V565 L506,567.5 H488.5" stroke="#3a3a3a" stroke-width="1" fill="none" />
<path d="M488.5,552 H507 M488.5,565.8 H507" stroke="#555" stroke-width="0.7" fill="none" />
</g>
<text x="348.3" y="101.7" font-size="10" textLength="6.4" lengthAdjust="spacingAndGlyphs" fill="#222">4</text>
<line x1="356.3" y1="99.5" x2="360.70000000000005" y2="99.5" stroke="#222" stroke-width="0.8" />
<ellipse cx="369.1" cy="99.4" rx="2.6" ry="2.7" fill="none" stroke="#222" stroke-width="1"/>
<line x1="369.1" y1="94.3" x2="369.1" y2="104.7" stroke="#222" stroke-width="1" />
<text x="375.0" y="101.7" font-size="10" textLength="17.8" lengthAdjust="spacingAndGlyphs" fill="#222">5.7</text>
<g transform="translate(393.8,92.8) scale(1.0)" fill="none" stroke="#1a1a1a" stroke-width="1.05" stroke-linecap="butt" stroke-linejoin="miter">
<path d="M1.2,1 L2.4,2.4"/>
<path d="M0.3,4 H2.2 V8 "/>
<path d="M0.2,9.6 Q1.5,8.6 2.4,8.2 Q4,9.6 9.9,9.5"/>
<path d="M3.6,0.8 H9.2 L7.3,2.3"/>
<path d="M5.6,1.8 L6.9,2.6"/>
<path d="M3.9,8.2 V3.1 H9.3 V8 Q9.3,8.4 8.6,8.4"/>
<path d="M3.9,4.8 H9.3 M3.9,6.5 H9.3 M6.6,3.1 V8.2"/>
</g>
<g transform="translate(407.0,92.8) scale(1.0)" fill="none" stroke="#1a1a1a" stroke-width="1.05" stroke-linecap="butt" stroke-linejoin="miter">
<path d="M0.5,1 H5 L3,3.2 V8.8 Q3,9.5 1.8,9.4"/>
<path d="M0.1,6.1 L5.6,4.6"/>
<path d="M6.8,0.4 V8.2 Q6.8,9.4 7.8,9.4 H9.3 Q10,9.4 10,7.6"/>
</g>
<text x="358.3" y="486" font-size="10" textLength="6.4" lengthAdjust="spacingAndGlyphs" fill="#222">4</text>
<line x1="366.3" y1="483.5" x2="370.70000000000005" y2="483.5" stroke="#222" stroke-width="0.8" />
<ellipse cx="379.1" cy="483.7" rx="2.6" ry="2.7" fill="none" stroke="#222" stroke-width="1"/>
<line x1="379.1" y1="478.6" x2="379.1" y2="489" stroke="#222" stroke-width="1" />
<text x="385.0" y="486" font-size="10" textLength="17.8" lengthAdjust="spacingAndGlyphs" fill="#222">7.0</text>
<g transform="translate(403.8,477.1) scale(1.0)" fill="none" stroke="#1a1a1a" stroke-width="1.05" stroke-linecap="butt" stroke-linejoin="miter">
<path d="M1.2,1 L2.4,2.4"/>
<path d="M0.3,4 H2.2 V8 "/>
<path d="M0.2,9.6 Q1.5,8.6 2.4,8.2 Q4,9.6 9.9,9.5"/>
<path d="M3.6,0.8 H9.2 L7.3,2.3"/>
<path d="M5.6,1.8 L6.9,2.6"/>
<path d="M3.9,8.2 V3.1 H9.3 V8 Q9.3,8.4 8.6,8.4"/>
<path d="M3.9,4.8 H9.3 M3.9,6.5 H9.3 M6.6,3.1 V8.2"/>
</g>
<g transform="translate(417.0,477.1) scale(1.0)" fill="none" stroke="#1a1a1a" stroke-width="1.05" stroke-linecap="butt" stroke-linejoin="miter">
<path d="M0.5,1 H5 L3,3.2 V8.8 Q3,9.5 1.8,9.4"/>
<path d="M0.1,6.1 L5.6,4.6"/>
<path d="M6.8,0.4 V8.2 Q6.8,9.4 7.8,9.4 H9.3 Q10,9.4 10,7.6"/>
</g>
</svg></body></html>
